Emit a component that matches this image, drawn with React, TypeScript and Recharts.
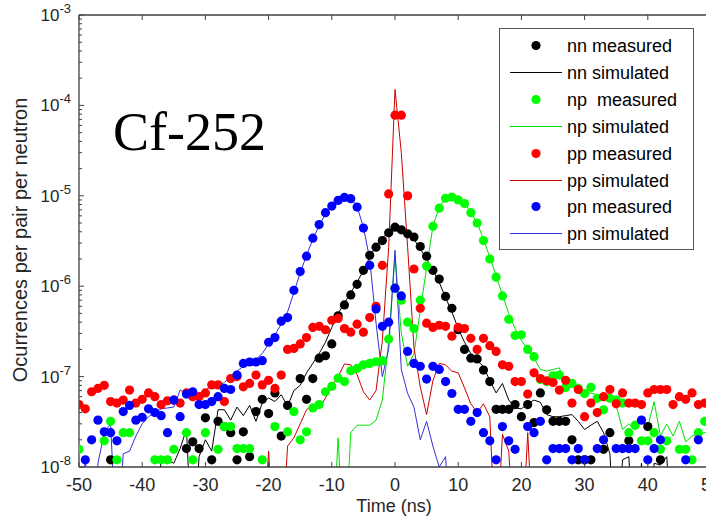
import React from 'react';
import { ComposedChart, Line, Scatter, XAxis, YAxis } from 'recharts';

// time bins, ns
const time = [
  -50, -49, -48, -47, -46, -45, -44, -43, -42, -41,
  -40, -39, -38, -37, -36, -35, -34, -33, -32, -31,
  -30, -29, -28, -27, -26, -25, -24, -23, -22, -21,
  -20, -19, -18, -17, -16, -15, -14, -13, -12, -11,
  -10, -9, -8, -7, -6, -5, -4, -3, -2, -1,
  0, 1, 2, 3, 4, 5, 6, 7, 8, 9,
  10, 11, 12, 13, 14, 15, 16, 17, 18, 19,
  20, 21, 22, 23, 24, 25, 26, 27, 28, 29,
  30, 31, 32, 33, 34, 35, 36, 37, 38, 39,
  40, 41, 42, 43, 44, 45, 46, 47, 48, 49,
  50,
];

// measured (null = no counts in bin)
const nnMeasured = [
  null, null, null, null, null, 1.2e-8, null, null, null, null,
  null, null, null, null, null, null, null, 1.6e-8, 1.9e-8, 1.6e-8,
  3.5e-8, 1.2e-8, 3.2e-8, 2.8e-8, 2.4e-8, 1.2e-8, 2.45e-8, 1.3e-8, 4.1e-8, 5.6e-8,
  3.9e-8, 6.6e-8, 2.2e-8, 4.8e-8, null, 9.5e-8, 5.6e-8, 9.5e-8, 1.6e-7, 1.7e-7,
  2.3e-7, 4.7e-7, 6.2e-7, 8e-7, 1.05e-6, 1.5e-6, 2.2e-6, 2.7e-6, 3.2e-6, 3.9e-6,
  4.5e-6, 4.2e-6, 3.8e-6, 3.5e-6, 2.75e-6, 2.15e-6, 1.5e-6, 1.2e-6, 7.7e-7, 5.7e-7,
  3.3e-7, 2e-7, 1.6e-7, 1.57e-7, 1.18e-7, 8.8e-8, 4.35e-8, 4.35e-8, 4.35e-8, 4.9e-8,
  3.6e-8, 4.9e-8, 3.1e-8, 6.6e-8, 4.3e-8, 3.2e-8, 3.2e-8, 3.2e-8, 2e-8, 1.2e-8,
  1.2e-8, 1.2e-8, null, 1.57e-8, 2.4e-8, null, null, 1.95e-8, null, null,
  2.8e-8, null, 1.2e-8, null, null, null, null, null, null, null,
  null,
];

const npMeasured = [
  1.57e-8, null, null, null, 1.95e-8, 3.2e-8, 1.2e-8, 2.4e-8, 2.4e-8, null,
  null, null, 1.2e-8, 1.2e-8, 1.2e-8, 1.57e-8, null, 2.4e-8, 1.2e-8, null,
  2.4e-8, null, 1.57e-8, 2.8e-8, 2.8e-8, 1.6e-8, 1.6e-8, 1.6e-8, null, 1.2e-8,
  null, 2.8e-8, null, 2.45e-8, 4.1e-8, 2e-8, 2.45e-8, 4.5e-8, 4.9e-8, 6.8e-8,
  7.8e-8, 9.6e-8, 8.8e-8, 1.16e-7, 1.23e-7, 1.35e-7, 1.4e-7, 1.46e-7, 1.5e-7, 2.6e-7,
  9.5e-7, 7e-7, 4e-7, 3.4e-7, 7e-7, 1.67e-6, 4.6e-6, 7.3e-6, 9.4e-6, 9.7e-6,
  9e-6, 8.2e-6, 6.5e-6, 5e-6, 3.2e-6, 2e-6, 1.26e-6, 7.8e-7, 4.3e-7, 2.85e-7,
  2.9e-7, 2e-7, 1.66e-7, 9.3e-8, 8.8e-8, 1.02e-7, 1.04e-7, 7.6e-8, 8.4e-8, 7.4e-8,
  6.5e-8, 7.6e-8, 5.75e-8, 4.3e-8, 5.75e-8, 5.5e-8, 5.1e-8, 2.4e-8, 2.9e-8, 1.95e-8,
  1.95e-8, 2.4e-8, 1.57e-8, 1.95e-8, null, 1.57e-8, 1.57e-8, 1.2e-8, 2.4e-8, 3.2e-8,
  3e-8,
];

const ppMeasured = [
  4.9e-8, 4.4e-8, 6.8e-8, 7.4e-8, 8e-8, 5.3e-8, 5.1e-8, 5.5e-8, 7.1e-8, 5.1e-8,
  5.6e-8, 6.6e-8, 6e-8, 4.9e-8, 5.4e-8, 5.5e-8, 5.1e-8, 6.6e-8, 6e-8, 6e-8,
  6.6e-8, 8.1e-8, 8.1e-8, 5.3e-8, 9.5e-8, 1e-7, 7.7e-8, 8.4e-8, 1.04e-7, 8.1e-8,
  9.1e-8, 7.4e-8, 1.04e-7, 2e-7, 2.05e-7, 2.3e-7, 2.7e-7, 3.5e-7, 3.6e-7, 3.3e-7,
  4.2e-7, 4.4e-7, 3.4e-7, 3.1e-7, 3.8e-7, 3.1e-7, 4.5e-7, 6e-7, 1.7e-6, 1.05e-5,
  7.8e-5, 7.8e-5, 1e-5, 1.55e-6, 5.7e-7, 3.9e-7, 3.5e-7, 3.7e-7, 3.6e-7, 2.8e-7,
  3.5e-7, 3.4e-7, 2.65e-7, 2e-7, 2.65e-7, 2.2e-7, 1.9e-7, 1.35e-7, 1.3e-7, 8.8e-8,
  8.8e-8, 6.4e-8, 1.1e-7, 9.5e-8, 9e-8, 8.6e-8, 7.1e-8, 9.1e-8, 5.1e-8, 7.2e-8,
  3.6e-8, 5.1e-8, 4e-8, 6e-8, 7.2e-8, 5e-8, 6.6e-8, 5.1e-8, 5.1e-8, 4.9e-8,
  6.6e-8, 7.2e-8, 7.2e-8, 7.2e-8, 4.9e-8, 6e-8, 5.6e-8, 6.6e-8, 4.9e-8, 5.1e-8,
  5.5e-8,
];

const pnMeasured = [
  null, 1.2e-8, 2e-8, 3.3e-8, 2.45e-8, 2.4e-8, 1.95e-8, 4.1e-8, 4.8e-8, 3.3e-8,
  3.55e-8, 4.4e-8, 4e-8, 3.7e-8, 2.4e-8, 5.5e-8, 3.6e-8, 6.4e-8, 6.8e-8, 4.9e-8,
  4.9e-8, 5.3e-8, 6e-8, 7.4e-8, 7.2e-8, 1.04e-7, 1.4e-7, 1.45e-7, 1.45e-7, 1.5e-7,
  2.4e-7, 2.7e-7, 4.1e-7, 4.5e-7, 9e-7, 1.45e-6, 2.15e-6, 3.4e-6, 4.8e-6, 6.5e-6,
  7.7e-6, 8.9e-6, 9.6e-6, 9.3e-6, 7.5e-6, 4.4e-6, 1.7e-6, 5.6e-7, 3.6e-7, 4e-7,
  9.5e-7, 7.8e-7, 1.9e-7, 1.4e-7, 1.3e-7, 9.4e-8, 1.3e-7, 1.2e-7, 8.8e-8, 6.5e-8,
  4.35e-8, 4.35e-8, 3.2e-8, 4e-8, 2.4e-8, 1.95e-8, 1.2e-8, 2.8e-8, 1.95e-8, 1.57e-8,
  null, 2.8e-8, 2.4e-8, 3.2e-8, 1.2e-8, 1.6e-8, 1.6e-8, 1.6e-8, 1.2e-8, 1.6e-8,
  1.2e-8, null, 1.6e-8, 2e-8, null, 1.6e-8, 1.6e-8, 1.6e-8, 1.6e-8, 3.3e-8,
  1.2e-8, 1.6e-8, 2e-8, null, null, null, 1.2e-8, null, 2e-8, null,
  null,
];

// simulated (0 = empty bin)
const nnSimulated = [
  0, 0, 0, 0, 0, 0, 0, 0, 0, 0,
  0, 0, 0, 1.3e-8, 1.2e-8, 1.1e-8, 1.6e-8, 2.6e-8, 0, 1.3e-8,
  2e-8, 1.5e-8, 4.3e-8, 4.3e-8, 3.3e-8, 4.6e-8, 3.7e-8, 4.8e-8, 3.2e-8, 5.1e-8,
  5.8e-8, 5.3e-8, 6.3e-8, 4.7e-8, 7e-8, 8e-8, 1.1e-7, 1.4e-7, 1.8e-7, 2.4e-7,
  3.5e-7, 5e-7, 6.5e-7, 8.5e-7, 1.1e-6, 1.5e-6, 2.1e-6, 2.8e-6, 3.4e-6, 4e-6,
  4.5e-6, 4.3e-6, 3.8e-6, 3.3e-6, 2.6e-6, 2e-6, 1.5e-6, 1.1e-6, 7.5e-7, 5.2e-7,
  3.4e-7, 2.4e-7, 1.8e-7, 1.5e-7, 1.3e-7, 9e-8, 6.6e-8, 8.4e-8, 5.5e-8, 4.5e-8,
  4.4e-8, 5e-8, 5.5e-8, 5.2e-8, 3.8e-8, 3.6e-8, 3.6e-8, 3.7e-8, 3.8e-8, 3.2e-8,
  2.6e-8, 2.9e-8, 3.2e-8, 2.4e-8, 1.4e-8, 0, 1.2e-8, 1.3e-8, 0, 1.1e-8,
  0, 1.1e-8, 1.05e-8, 1.3e-8, 0, 0, 0, 0, 0, 0,
  0,
];

const npSimulated = [
  0, 0, 0, 0, 0, 0, 0, 0, 0, 0,
  0, 0, 0, 0, 0, 0, 0, 0, 0, 0,
  0, 0, 0, 0, 0, 0, 0, 0, 0, 0,
  0, 0, 0, 0, 0, 0, 0, 0, 0, 0,
  0, 2.1e-8, 0, 2.4e-8, 2.9e-8, 2.9e-8, 2.9e-8, 3.3e-8, 5.5e-8, 2.5e-7,
  2.2e-6, 3e-7, 1.3e-7, 1.8e-7, 5.4e-7, 1.6e-6, 4.6e-6, 7.5e-6, 9.4e-6, 9.8e-6,
  9.2e-6, 8.2e-6, 6.6e-6, 5e-6, 3.3e-6, 2.1e-6, 1.3e-6, 8e-7, 5e-7, 3.4e-7,
  2.5e-7, 2e-7, 1.6e-7, 1.2e-7, 1.15e-7, 1.2e-7, 1.25e-7, 7.7e-8, 9e-8, 6.5e-8,
  6.3e-8, 6.6e-8, 6.3e-8, 6e-8, 5.5e-8, 4.8e-8, 2.6e-8, 3e-8, 2.6e-8, 3.3e-8,
  2.8e-8, 5.3e-8, 2.2e-8, 3e-8, 2.2e-8, 3.2e-8, 1.9e-8, 2.2e-8, 2.3e-8, 2.4e-8,
  2.5e-8,
];

const ppSimulated = [
  0, 0, 0, 0, 0, 0, 0, 0, 0, 0,
  0, 0, 0, 0, 0, 0, 0, 0, 0, 0,
  0, 0, 0, 0, 0, 0, 0, 0, 0, 0,
  1.5e-8, 0, 0, 1.7e-8, 2.1e-8, 3e-8, 4.3e-8, 4.9e-8, 4.4e-8, 5.8e-8,
  7.8e-8, 1e-7, 1.38e-7, 1.35e-7, 1.05e-7, 6.8e-8, 5.5e-8, 7e-8, 2.5e-7, 2.7e-6,
  1.5e-4, 3e-5, 2.7e-6, 2.1e-7, 7.7e-8, 3.8e-8, 9e-8, 1.4e-7, 1.35e-7, 1.15e-7,
  1.1e-7, 7.5e-8, 5e-8, 4e-8, 5e-8, 3.6e-8, 0, 2.3e-8, 1.5e-8, 0,
  0, 2.4e-8, 0, 0, 0, 0, 0, 0, 0, 0,
  0, 0, 0, 0, 0, 0, 0, 0, 0, 0,
  0, 0, 0, 0, 0, 0, 0, 0, 0, 0,
  0,
];

const pnSimulated = [
  0, 1.3e-8, 0, 1.1e-8, 2.4e-8, 3e-8, 0, 1.4e-8, 1.5e-8, 2.2e-8,
  3e-8, 3.6e-8, 4e-8, 4.4e-8, 4.5e-8, 4.6e-8, 7.1e-8, 6.5e-8, 6e-8, 6.5e-8,
  7e-8, 8.1e-8, 8e-8, 8.6e-8, 1e-7, 1.15e-7, 1.3e-7, 1.4e-7, 1.55e-7, 1.8e-7,
  2.3e-7, 2.9e-7, 3.8e-7, 5.2e-7, 8.5e-7, 1.4e-6, 2.2e-6, 3.3e-6, 4.7e-6, 6.3e-6,
  7.8e-6, 9e-6, 9.8e-6, 9.4e-6, 7.6e-6, 4.5e-6, 2e-6, 3.9e-7, 1e-7, 2e-7,
  2.5e-6, 1.2e-7, 6.5e-8, 4.6e-8, 2e-8, 3.2e-8, 1.7e-8, 1e-8, 1.3e-8, 0,
  0, 0, 0, 0, 0, 0, 0, 0, 0, 0,
  0, 0, 0, 0, 0, 0, 0, 0, 0, 0,
  0, 0, 0, 0, 0, 0, 0, 0, 0, 0,
  0, 0, 0, 0, 0, 0, 0, 0, 0, 0,
  0,
];

const xTicks = [-50, -40, -30, -20, -10, 0, 10, 20, 30, 40, 50];
const yMajor = [1e-8, 1e-7, 1e-6, 1e-5, 1e-4, 1e-3];
const yMinorSteps = [2, 3, 4, 5, 6, 7, 8, 9];

const NN_LINE = '#000000';
const NP_LINE = '#00e000';
const PP_LINE = '#cc0000';
const PN_LINE = '#3030dd';

const legendItems = [
  { label: 'nn measured', color: '#000000', kind: 'dot' },
  { label: 'nn simulated', color: NN_LINE, kind: 'line' },
  { label: 'np  measured', color: '#00ff00', kind: 'dot' },
  { label: 'np simulated', color: NP_LINE, kind: 'line' },
  { label: 'pp measured', color: '#ff0000', kind: 'dot' },
  { label: 'pp simulated', color: PP_LINE, kind: 'line' },
  { label: 'pn measured', color: '#0000ff', kind: 'dot' },
  { label: 'pn simulated', color: PN_LINE, kind: 'line' },
];

// tables for the library
const yTicks = [
  ...yMajor,
  ...yMajor.slice(0, 5).flatMap((d) => yMinorSteps.map((k) => k * d)),
];
const points = (vals: (number | null)[]) =>
  time.map((t, i) => ({ t, v: vals[i] })).filter((p) => p.v !== null && (p.v as number) > 0);
const curve = (vals: number[]) => time.map((t, i) => ({ t, v: vals[i] > 0 ? vals[i] : 1e-9 }));

const W = 740;
const H = 518;
const PLOT = { left: 79, right: 711, top: 15, bottom: 467 };
const AXIS = '#404040';
const TEXT = '#262626';
const SANS = '"Liberation Sans", Arial, sans-serif';

const isMajor = (v: number) => Math.abs(Math.log10(v) - Math.round(Math.log10(v))) < 1e-6;

const BottomTick = (p: any) => (
  <g>
    <line x1={p.x} x2={p.x} y1={PLOT.bottom} y2={PLOT.bottom - 5} stroke={AXIS} />
    <text x={p.x} y={491} textAnchor="middle" fontSize={18} fontFamily={SANS} fill={TEXT}>
      {p.payload.value}
    </text>
  </g>
);

const TopTick = (p: any) => (
  <line x1={p.x} x2={p.x} y1={PLOT.top} y2={PLOT.top + 5} stroke={AXIS} />
);

const LeftTick = (p: any) => {
  const v = p.payload.value;
  const major = isMajor(v);
  return (
    <g>
      <line x1={PLOT.left} x2={PLOT.left + (major ? 5 : 3)} y1={p.y} y2={p.y} stroke={AXIS} />
      {major && (
        <text x={71} y={p.y} dy={6} textAnchor="end" fontSize={17} fontFamily={SANS} fill={TEXT}>
          10
          <tspan dy={-8} fontSize={13}>{String(Math.round(Math.log10(v)))}</tspan>
        </text>
      )}
    </g>
  );
};

const RightTick = (p: any) => {
  const major = isMajor(p.payload.value);
  return (
    <line x1={PLOT.right} x2={PLOT.right - (major ? 5 : 3)} y1={p.y} y2={p.y} stroke={AXIS} />
  );
};

const dot = (color: string) => (p: any) => <circle cx={p.cx} cy={p.cy} r={4.6} fill={color} />;

const Overlay = () => {
  const lx = 499.5;
  const ly = 28.5;
  return (
    <svg
      width={706}
      height={518}
      style={{ position: 'absolute', left: 0, top: 0, pointerEvents: 'none' }}
    >
      <text x={113} y={150} fontSize={54} fontFamily='"Liberation Serif", "Times New Roman", serif' fill="#000">
        Cf-252
      </text>
      <text x={394} y={512} textAnchor="middle" fontSize={18} fontFamily={SANS} fill={TEXT}>
        Time (ns)
      </text>
      <text
        transform="rotate(-90)"
        x={-240}
        y={27}
        textAnchor="middle"
        fontSize={20}
        fontFamily={SANS}
        fill={TEXT}
      >
        Ocurrences per pair per neutron
      </text>
      <rect x={lx} y={ly} width={194} height={221} fill="#fff" stroke="#555" strokeWidth={1} />
      {legendItems.map((it, i) => {
        const cy = Math.round(45 + i * 26.9) + 0.5;
        return (
          <g key={it.label}>
            {it.kind === 'dot' ? (
              <circle cx={536} cy={cy} r={4.6} fill={it.color} />
            ) : (
              <line x1={510} x2={562} y1={cy} y2={cy} stroke={it.color} strokeWidth={1.2} />
            )}
            <text
              x={567}
              y={cy + 6}
              fontSize={18}
              fontFamily={SANS}
              fill="#000"
              style={{ whiteSpace: 'pre' }}
            >
              {it.label}
            </text>
          </g>
        );
      })}
    </svg>
  );
};

export default function App() {
  return (
    <div
      style={{
        position: 'absolute',
        left: 0,
        top: 0,
        width: 706,
        height: 518,
        overflow: 'hidden',
        background: '#fff',
      }}
    >
      <ComposedChart width={W} height={H} margin={{ top: 14, right: 28, bottom: 0, left: 0 }}>
        <XAxis
          dataKey="t"
          type="number"
          domain={[-50, 50]}
          ticks={xTicks}
          interval={0}
          allowDataOverflow
          height={51}
          axisLine={{ stroke: AXIS, strokeWidth: 1.3 }}
          tickLine={false}
          tick={BottomTick}
        />
        <XAxis
          xAxisId="top"
          orientation="top"
          dataKey="t"
          type="number"
          domain={[-50, 50]}
          ticks={xTicks}
          interval={0}
          allowDataOverflow
          height={1}
          axisLine={{ stroke: AXIS, strokeWidth: 1.3 }}
          tickLine={false}
          tick={TopTick}
        />
        <YAxis
          type="number"
          scale="log"
          domain={[1e-8, 1e-3]}
          ticks={yTicks}
          interval={0}
          allowDataOverflow
          width={79}
          axisLine={{ stroke: AXIS, strokeWidth: 1.3 }}
          tickLine={false}
          tick={LeftTick}
        />
        <YAxis
          yAxisId="right"
          orientation="right"
          type="number"
          scale="log"
          domain={[1e-8, 1e-3]}
          ticks={yTicks}
          interval={0}
          allowDataOverflow
          width={1}
          axisLine={{ stroke: AXIS, strokeWidth: 1.3 }}
          tickLine={false}
          tick={RightTick}
        />

        <Scatter data={points(nnMeasured)} dataKey="v" shape={dot('#000000')} isAnimationActive={false} />
        <Line data={curve(nnSimulated)} dataKey="v" stroke={NN_LINE} strokeWidth={1} dot={false} type="linear" isAnimationActive={false} />
        <Scatter data={points(npMeasured)} dataKey="v" shape={dot('#00ff00')} isAnimationActive={false} />
        <Line data={curve(npSimulated)} dataKey="v" stroke={NP_LINE} strokeWidth={1} dot={false} type="linear" isAnimationActive={false} />
        <Scatter data={points(ppMeasured)} dataKey="v" shape={dot('#ff0000')} isAnimationActive={false} />
        <Line data={curve(ppSimulated)} dataKey="v" stroke={PP_LINE} strokeWidth={1} dot={false} type="linear" isAnimationActive={false} />
        <Scatter data={points(pnMeasured)} dataKey="v" shape={dot('#0000ff')} isAnimationActive={false} />
        <Line data={curve(pnSimulated)} dataKey="v" stroke={PN_LINE} strokeWidth={1} dot={false} type="linear" isAnimationActive={false} />
      </ComposedChart>
      <Overlay />
    </div>
  );
}
